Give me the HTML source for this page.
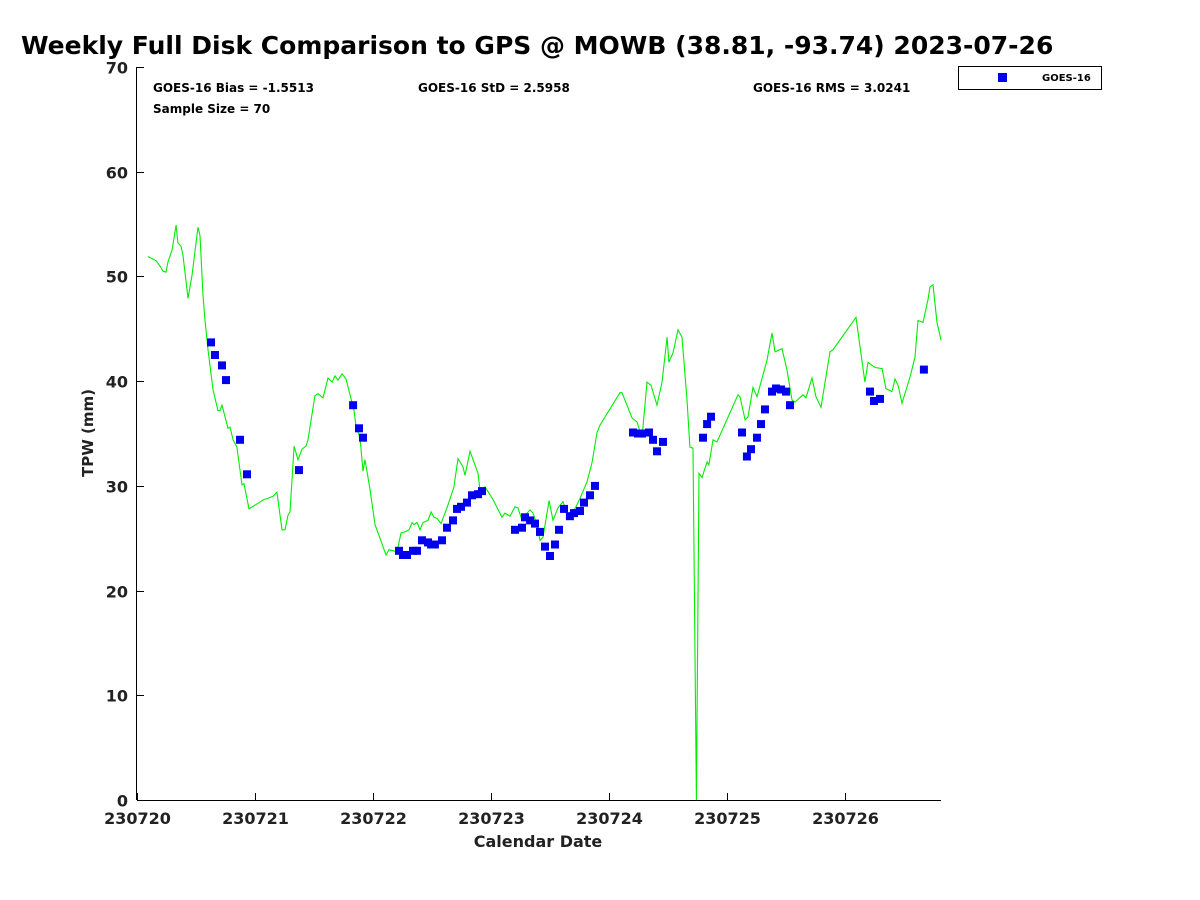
<!DOCTYPE html>
<html><head><meta charset="utf-8"><style>
html,body{margin:0;padding:0;background:#fff;}
svg{display:block;font-family:"DejaVu Sans","Liberation Sans",sans-serif;}
</style></head><body>
<svg id="chart" width="1200" height="900" viewBox="0 0 1200 900" xmlns="http://www.w3.org/2000/svg">
<rect width="1200" height="900" fill="#fff"/>
<text x="21" y="54" font-size="25" font-weight="bold">Weekly Full Disk Comparison to GPS @ MOWB (38.81, -93.74) 2023-07-26</text>
<text x="153" y="92" font-size="12" font-weight="bold">GOES-16 Bias = -1.5513</text>
<text x="153" y="113" font-size="12" font-weight="bold">Sample Size = 70</text>
<text x="418" y="92" font-size="12" font-weight="bold">GOES-16 StD = 2.5958</text>
<text x="753" y="92" font-size="12" font-weight="bold">GOES-16 RMS = 3.0241</text>
<g>
<rect x="958.5" y="66.5" width="143" height="23" fill="#fff" stroke="#000" stroke-width="1"/>
<rect x="998" y="73" width="9" height="9" fill="#0000ee"/>
<text x="1042" y="81" font-size="10" font-weight="bold">GOES-16</text>
</g>
<text transform="translate(93,433) rotate(-90)" text-anchor="middle" font-size="15" font-weight="bold" fill="#222">TPW (mm)</text>
<text x="538" y="847" text-anchor="middle" font-size="16" font-weight="bold" fill="#222">Calendar Date</text>
<g id="axes"></g>
<g id="series"></g>
</svg>
<script>
const xTickLabels = ["230720","230721","230722","230723","230724","230725","230726"];
const yTickValues = [0,10,20,30,40,50,60,70];
const gpsDays = [0.093,0.127,0.161,0.195,0.220,0.246,0.263,0.297,0.331,0.347,0.373,0.390,0.432,0.466,0.517,0.534,0.559,0.576,0.602,0.644,0.686,0.703,0.720,0.771,0.788,0.814,0.847,0.890,0.907,0.949,1.076,1.110,1.127,1.153,1.186,1.229,1.254,1.280,1.297,1.331,1.364,1.398,1.432,1.449,1.508,1.534,1.576,1.619,1.653,1.678,1.703,1.737,1.771,1.805,1.839,1.856,1.890,1.915,1.932,1.975,2.017,2.059,2.110,2.136,2.203,2.237,2.271,2.305,2.331,2.347,2.373,2.398,2.424,2.466,2.492,2.517,2.542,2.576,2.627,2.669,2.686,2.720,2.763,2.780,2.822,2.890,2.907,2.949,3.017,3.093,3.119,3.161,3.203,3.229,3.254,3.288,3.331,3.356,3.390,3.415,3.441,3.492,3.525,3.568,3.610,3.653,3.686,3.754,3.814,3.856,3.898,3.924,4.093,4.110,4.195,4.237,4.280,4.322,4.356,4.407,4.449,4.492,4.508,4.542,4.585,4.619,4.661,4.686,4.712,4.741,4.763,4.788,4.831,4.847,4.881,4.915,5.093,5.110,5.153,5.178,5.220,5.254,5.339,5.381,5.407,5.466,5.508,5.551,5.576,5.644,5.669,5.720,5.754,5.797,5.873,5.898,6.093,6.169,6.195,6.254,6.314,6.347,6.398,6.424,6.449,6.483,6.551,6.593,6.619,6.661,6.703,6.720,6.746,6.780,6.814];
const gpsTPW = [51.9,51.7,51.5,51.0,50.5,50.4,51.4,52.5,54.9,53.2,52.9,52.0,47.9,50.1,54.7,53.9,48.2,45.8,43.0,39.2,37.2,37.2,37.7,35.5,35.6,34.4,33.7,30.1,30.2,27.8,28.7,28.8,28.9,29.0,29.4,25.8,25.8,27.2,27.5,33.8,32.5,33.5,33.8,34.4,38.6,38.8,38.4,40.3,39.9,40.5,40.1,40.7,40.2,38.7,37.2,35.7,34.6,31.4,32.5,29.6,26.3,25.0,23.4,23.9,23.7,25.5,25.6,25.8,26.5,26.3,26.5,25.8,26.5,26.7,27.5,27.0,26.9,26.4,27.9,29.3,29.9,32.6,31.8,31.0,33.3,31.2,29.6,29.9,28.7,27.0,27.4,27.1,28.0,27.9,27.0,27.2,27.7,27.4,26.3,24.8,25.1,28.6,26.7,27.9,28.5,27.0,27.2,28.8,30.4,32.2,35.1,35.8,38.9,38.9,36.5,36.1,34.6,39.9,39.6,37.7,39.9,44.2,41.8,42.7,44.9,44.2,38.2,33.7,33.6,0,31.2,30.8,32.3,32.0,34.4,34.2,38.7,38.5,36.3,36.6,39.4,38.5,42.0,44.6,42.8,43.1,41.1,38.2,38.0,38.7,38.4,40.3,38.5,37.5,42.8,43.0,46.1,39.9,41.8,41.3,41.2,39.3,39.0,40.2,39.6,37.9,40.4,42.3,45.8,45.6,47.8,49.0,49.2,45.6,43.9];
const goesDays = [0.627,0.661,0.720,0.754,0.873,0.932,1.373,1.831,1.881,1.915,2.220,2.254,2.288,2.339,2.373,2.415,2.466,2.492,2.525,2.585,2.627,2.678,2.712,2.746,2.797,2.839,2.890,2.924,3.203,3.263,3.288,3.331,3.373,3.415,3.458,3.500,3.542,3.576,3.619,3.669,3.703,3.754,3.788,3.839,3.881,4.203,4.246,4.280,4.339,4.373,4.407,4.458,4.797,4.831,4.864,5.127,5.169,5.203,5.254,5.288,5.322,5.381,5.415,5.458,5.500,5.534,6.212,6.246,6.297,6.669];
const goesTPW = [43.7,42.5,41.5,40.1,34.4,31.1,31.5,37.7,35.5,34.6,23.8,23.4,23.4,23.8,23.8,24.8,24.6,24.4,24.4,24.8,26.0,26.7,27.8,28.0,28.4,29.1,29.2,29.5,25.8,26.0,27.0,26.7,26.4,25.6,24.2,23.3,24.4,25.8,27.8,27.1,27.4,27.6,28.4,29.1,30.0,35.1,35.0,35.0,35.1,34.4,33.3,34.2,34.6,35.9,36.6,35.1,32.8,33.5,34.6,35.9,37.3,39.0,39.3,39.2,39.0,37.7,39.0,38.1,38.3,41.1];

const NS='http://www.w3.org/2000/svg';
const X0=137, X1=941, Y0=800, Y1=67, PXDAY=118, YMAX=70;
function xs(d){return X0+d*PXDAY;}
function ys(v){return Y0-(v/YMAX)*(Y0-Y1);}
function mk(tag,attrs,parent){const e=document.createElementNS(NS,tag);for(const k in attrs)e.setAttribute(k,attrs[k]);parent.appendChild(e);return e;}
const axes=document.getElementById('axes'), series=document.getElementById('series');

const xl=mk('line',{x1:X0,y1:Y0+0.5,x2:X1,y2:Y0+0.5,stroke:'#000','stroke-width':1},axes);


const yl=mk('line',{x1:X0-0.5,y1:Y1,x2:X0-0.5,y2:Y0,stroke:'#000','stroke-width':1},axes);



yTickValues.forEach(v=>{
  const y=Math.round(ys(v))+0.5;
  const t=mk('line',{x1:X0,y1:y,x2:X0+7,y2:y,stroke:'#000'},axes);
  
  
  const l=mk('text',{x:X0-9,y:y+6,'text-anchor':'end','font-size':16,'font-weight':'bold',fill:'#222'},axes);
  l.textContent=String(v);
  
  
});
xTickLabels.forEach((lab,i)=>{
  const x=Math.round(xs(i))+0.5;
  const t=mk('line',{x1:x,y1:Y0,x2:x,y2:Y0-7,stroke:'#000'},axes);
  
  
  const l=mk('text',{x:x,y:Y0+24,'text-anchor':'middle','font-size':16,'font-weight':'bold',fill:'#222'},axes);
  l.textContent=lab;
  
  
});

const pts=gpsDays.map((d,i)=>xs(d).toFixed(1)+','+ys(gpsTPW[i]).toFixed(1)).join(' ');
const pl=mk('polyline',{points:pts,fill:'none',stroke:'#00ee00','stroke-width':1.1},series);



goesDays.forEach((d,i)=>{
  const r=mk('rect',{x:(xs(d)-4).toFixed(1),y:(ys(goesTPW[i])-4).toFixed(1),width:8,height:8,fill:'#0000ee'},series);
  
  
});
</script>
</body></html>
